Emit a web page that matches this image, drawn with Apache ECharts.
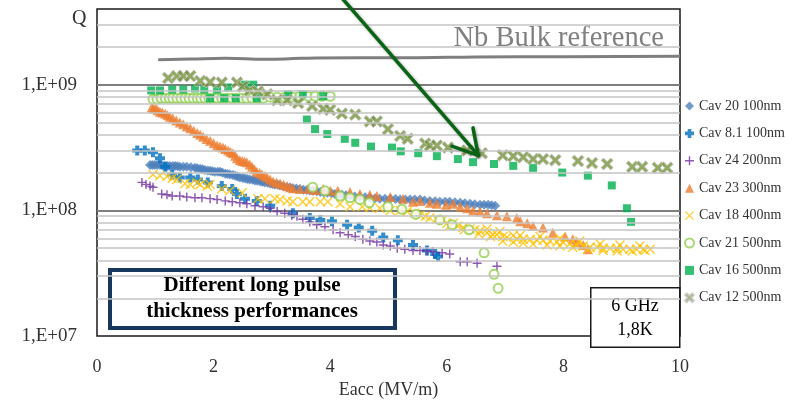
<!DOCTYPE html>
<html>
<head>
<meta charset="utf-8">
<script src="https://cdn.jsdelivr.net/npm/echarts@6/dist/echarts.min.js"></script>
<style>
html,body{margin:0;padding:0;background:#fff}
#box{width:794px;height:404px}
</style>
</head>
<body>
<div id="box"></div>
<script>
// legend names
var names = ['Cav 20 100nm','Cav 8.1 100nm','Cav 24 200nm','Cav 23 300nm','Cav 18 400nm','Cav 21 500nm','Cav 16 500nm','Cav 12 500nm'];

// [Eacc MV/m, Q]
var cav20 = [[0.91,2.3e8],[0.95,2.3e8],[0.99,2.3e8],[1.03,2.3e8],[1.08,2.3e8],[1.12,2.28e8],[1.17,2.26e8],[1.21,2.26e8],
  [1.25,2.26e8],[1.30,2.26e8],[1.34,2.26e8],[1.38,2.24e8],[1.42,2.22e8],[1.48,2.22e8],[1.54,2.22e8],[1.61,2.2e8],
  [1.68,2.18e8],[1.72,2.16e8],[1.77,2.14e8],[1.81,2.12e8],[1.85,2.1e8],[1.90,2.08e8],[1.94,2.07e8],[1.98,2.05e8],
  [2.02,2.03e8],[2.07,2.03e8],[2.11,2.03e8],[2.15,2.0e8],[2.20,1.96e8],[2.24,1.95e8],[2.28,1.93e8],[2.33,1.91e8],
  [2.37,1.89e8],[2.41,1.86e8],[2.45,1.83e8],[2.50,1.81e8],[2.54,1.79e8],[2.58,1.78e8],[2.62,1.76e8],[2.67,1.75e8],
  [2.71,1.73e8],[2.75,1.72e8],[2.80,1.7e8],[2.84,1.69e8],[2.88,1.67e8],[2.93,1.66e8],[2.97,1.64e8],[3.01,1.62e8],
  [3.05,1.61e8],[3.10,1.6e8],[3.14,1.58e8],[3.20,1.55e8],[3.26,1.53e8],[3.31,1.52e8],[3.36,1.5e8],[3.42,1.49e8],
  [3.48,1.48e8],[3.54,1.46e8],[3.60,1.45e8],[3.65,1.44e8],[3.70,1.43e8],[3.77,1.42e8],[3.83,1.4e8],[3.89,1.39e8],
  [3.95,1.38e8],[4.02,1.37e8],[4.08,1.35e8],[4.14,1.34e8],[4.20,1.33e8],[4.27,1.32e8],[4.34,1.3e8],[4.42,1.29e8],
  [4.51,1.28e8],[4.60,1.27e8],[4.68,1.26e8],[4.77,1.25e8],[4.85,1.24e8],[4.94,1.24e8],[5.03,1.24e8],[5.12,1.23e8],
  [5.20,1.22e8],[5.29,1.22e8],[5.37,1.22e8],[5.45,1.22e8],[5.54,1.22e8],[5.62,1.2e8],[5.71,1.19e8],[5.80,1.18e8],
  [5.88,1.17e8],[5.97,1.17e8],[6.05,1.17e8],[6.14,1.16e8],[6.23,1.15e8],[6.31,1.14e8],[6.40,1.13e8],[6.48,1.12e8],
  [6.57,1.11e8],[6.64,1.11e8],[6.71,1.11e8],[6.77,1.1e8],[6.83,1.09e8]];
var cav81 = [[0.69,3.0e8],[0.82,3.0e8],[0.96,2.9e8],[1.08,2.6e8],[1.17,2.22e8],[1.29,1.93e8],[1.42,1.83e8],[1.60,1.83e8],
  [1.73,1.76e8],[1.90,1.67e8],[2.14,1.56e8],[2.32,1.48e8],[2.40,1.35e8],[2.54,1.24e8],[2.74,1.19e8],[2.97,1.09e8],
  [3.36,9.5e7],[3.65,8.7e7],[3.83,8.4e7],[4.03,8.2e7],[4.29,7.7e7],[4.49,7.3e7],[4.72,6.9e7],[4.91,6.1e7],
  [5.16,5.8e7],[5.42,5.3e7],[5.66,4.8e7],[5.80,4.5e7],[5.85,4.3e7]];
var cav24 = [[0.77,1.67e8],[0.84,1.61e8],[0.91,1.56e8],[0.96,1.53e8],[1.11,1.35e8],[1.20,1.33e8],[1.29,1.3e8],[1.42,1.3e8],
  [1.54,1.28e8],[1.68,1.26e8],[1.80,1.26e8],[1.94,1.24e8],[2.06,1.22e8],[2.20,1.19e8],[2.32,1.17e8],[2.45,1.15e8],
  [2.57,1.13e8],[2.71,1.09e8],[2.85,1.07e8],[2.97,1.04e8],[3.09,9.8e7],[3.22,9.5e7],[3.34,9.15e7],[3.43,9.0e7],
  [3.53,8.5e7],[3.65,8.1e7],[3.77,7.7e7],[3.91,7.4e7],[4.05,7.0e7],[4.17,6.65e7],[4.31,6.4e7],[4.43,6.2e7],
  [4.56,5.9e7],[4.68,5.7e7],[4.80,5.6e7],[4.91,5.3e7],[5.03,5.2e7],[5.15,5.0e7],[5.28,4.9e7],[5.42,4.8e7],
  [5.54,4.8e7],[5.66,4.75e7],[5.76,4.7e7],[5.92,4.6e7],[6.05,4.5e7],[6.23,3.9e7],[6.35,3.9e7],[6.52,3.8e7],[6.86,3.6e7]];
var cav23 = [[0.94,6.6e8],[0.97,6.5e8],[1.01,6.43e8],[1.04,6.25e8],[1.08,6.09e8],[1.12,6.0e8],[1.17,5.88e8],[1.21,5.7e8],
  [1.25,5.57e8],[1.30,5.4e8],[1.36,5.19e8],[1.42,5.0e8],[1.48,4.84e8],[1.54,4.65e8],[1.60,4.5e8],[1.66,4.3e8],
  [1.72,4.12e8],[1.77,4.0e8],[1.82,3.85e8],[1.88,3.7e8],[1.94,3.58e8],[2.00,3.42e8],[2.06,3.28e8],[2.11,3.22e8],
  [2.16,3.16e8],[2.20,3.08e8],[2.25,3.0e8],[2.29,2.92e8],[2.33,2.85e8],[2.37,2.72e8],[2.40,2.6e8],[2.45,2.52e8],
  [2.49,2.47e8],[2.53,2.45e8],[2.57,2.42e8],[2.62,2.32e8],[2.66,2.22e8],[2.70,2.12e8],[2.74,2.03e8],[2.79,1.98e8],
  [2.83,1.93e8],[2.88,1.88e8],[2.92,1.83e8],[2.97,1.76e8],[3.02,1.7e8],[3.08,1.67e8],[3.14,1.64e8],[3.20,1.6e8],
  [3.26,1.56e8],[3.31,1.53e8],[3.36,1.5e8],[3.48,1.48e8],[3.62,1.48e8],[3.74,1.45e8],[3.88,1.48e8],[4.00,1.43e8],
  [4.13,1.43e8],[4.34,1.4e8],[4.51,1.35e8],[4.68,1.33e8],[4.80,1.3e8],[5.03,1.28e8],[5.25,1.24e8],[5.42,1.17e8],
  [5.54,1.19e8],[5.71,1.15e8],[5.83,1.13e8],[5.99,1.11e8],[6.11,1.13e8],[6.23,1.07e8],[6.35,1.04e8],[6.45,1.0e8],
  [6.57,9.8e7],[6.69,9.5e7],[6.86,9.15e7],[7.03,9.0e7],[7.20,8.7e7],[7.26,8.2e7],[7.38,7.9e7],[7.48,7.5e7],
  [7.65,7.3e7],[7.82,6.65e7],[8.03,6.2e7],[8.16,5.9e7],[8.23,5.6e7],[8.34,5.3e7],[8.42,4.9e7]];
var cav18 = [[0.96,1.93e8],[1.08,1.89e8],[1.20,1.86e8],[1.29,1.8e8],[1.37,1.76e8],[1.51,1.64e8],[1.60,1.61e8],[1.72,1.67e8],
  [1.77,1.61e8],[1.89,1.56e8],[1.94,1.61e8],[2.14,1.48e8],[2.28,1.43e8],[2.49,1.38e8],[2.76,1.24e8],[2.88,1.24e8],
  [3.05,1.24e8],[3.14,1.22e8],[3.26,1.19e8],[3.36,1.17e8],[3.53,1.17e8],[3.65,1.17e8],[3.83,1.17e8],[3.96,1.17e8],
  [4.17,1.13e8],[4.34,1.07e8],[4.55,1.07e8],[4.68,1.05e8],[4.85,1.04e8],[5.03,1.0e8],[5.20,1.0e8],[5.32,9.8e7],
  [5.45,9.5e7],[5.54,9.15e7],[5.63,9.0e7],[5.71,8.7e7],[5.83,8.5e7],[5.93,8.4e7],[6.00,7.9e7],[6.11,7.9e7],
  [6.19,7.5e7],[6.28,7.3e7],[6.40,7.1e7],[6.48,7.0e7],[6.57,6.9e7],[6.69,6.65e7],[6.79,6.4e7],[6.86,6.4e7],
  [6.96,6.2e7],[7.03,6.1e7],[7.14,6.3e7],[7.20,5.9e7],[7.31,5.9e7],[7.43,5.9e7],[7.55,5.8e7],[7.65,5.8e7],
  [7.77,5.7e7],[7.89,5.6e7],[7.99,5.6e7],[8.11,5.4e7],[8.23,5.3e7],[8.34,5.2e7],[8.46,5.1e7],[8.58,5.1e7],
  [8.68,5.0e7],[8.80,5.0e7],[8.92,5.0e7],[9.02,4.9e7],[9.14,4.9e7],[9.26,4.9e7],[9.37,4.9e7],[9.49,4.9e7],
  // lower and upper edges of the dense band
  [6.05,7.5e7],[6.30,7.0e7],[6.55,6.5e7],[6.75,6.2e7],[6.96,5.7e7],[7.14,5.6e7],[7.31,5.5e7],[7.48,5.4e7],
  [7.72,5.3e7],[7.94,5.2e7],[8.16,5.1e7],[8.42,4.9e7],[8.68,4.8e7],[8.92,4.75e7],[9.18,4.75e7],[9.40,4.8e7],
  [6.69,7.1e7],[6.91,6.8e7],[7.26,6.3e7],[7.60,6.2e7],[7.94,6.0e7],[8.28,5.7e7],[8.63,5.4e7],[8.97,5.3e7],[9.31,5.2e7]];
var cav21 = [[0.96,7.67e8],[1.03,7.67e8],[1.10,7.8e8],[1.17,7.8e8],[1.24,7.8e8],[1.30,7.8e8],[1.37,7.8e8],[1.44,7.8e8],
  [1.51,7.8e8],[1.58,7.8e8],[1.65,7.8e8],[1.72,7.8e8],[1.78,7.8e8],[1.85,7.8e8],[1.92,7.8e8],[1.99,7.8e8],
  [2.06,7.8e8],[2.14,7.8e8],[2.23,7.8e8],[2.32,7.8e8],[2.40,7.8e8],[2.49,7.8e8],[2.57,7.8e8],[2.66,7.8e8],
  [2.76,7.8e8],[2.85,7.8e8],[2.97,7.95e8],[3.09,7.95e8],[3.22,7.95e8],[3.36,7.95e8],[3.48,8.09e8],[3.62,8.09e8],
  [3.74,8.09e8],[3.86,8.09e8],[4.00,8.09e8],
  [3.70,1.53e8],[3.91,1.43e8],[4.17,1.3e8],[4.34,1.26e8],[4.51,1.22e8],[4.67,1.15e8],[4.99,1.07e8],[5.23,1.02e8],
  [5.47,9.3e7],[5.88,8.4e7],[6.09,7.7e7],[6.38,7.0e7],[6.64,4.6e7],[6.81,3.1e7],[6.88,2.4e7]];
var cav16 = [[0.93,9.0e8],[1.08,9.0e8],[1.29,9.15e8],[1.48,9.15e8],[1.68,9.32e8],[1.84,9.15e8],[1.94,7.8e8],[2.06,9.15e8],
  [2.18,7.8e8],[2.25,9.5e8],[2.38,7.8e8],[2.54,1.0e9],[2.68,1.0e9],[2.74,7.8e8],[3.28,8.38e8],[3.53,8.38e8],
  [3.88,8.09e8],[3.60,5.28e8],[3.74,4.43e8],[3.95,4.05e8],[4.25,3.71e8],[4.43,3.45e8],[4.70,3.22e8],[5.06,3.16e8],
  [5.21,2.95e8],[5.51,2.85e8],[5.83,2.7e8],[6.19,2.56e8],[6.45,2.42e8],[6.81,2.34e8],[7.14,2.26e8],[7.48,2.18e8],
  [7.98,2.0e8],[8.42,1.89e8],[8.83,1.58e8],[9.09,1.04e8],[9.16,8.1e7]];
var cav12 = [[1.22,1.13e9],[1.37,1.17e9],[1.48,1.17e9],[1.60,1.17e9],[1.77,1.07e9],[1.94,1.05e9],[2.14,1.04e9],[2.40,1.04e9],
  [2.50,9.66e8],[2.62,9.0e8],[2.76,8.84e8],[2.92,8.38e8],[3.09,7.53e8],[3.26,7.53e8],[3.45,7.14e8],[3.69,6.77e8],
  [3.88,6.43e8],[4.00,6.31e8],[4.20,5.88e8],[4.43,5.78e8],[4.68,5.1e8],[4.80,5.1e8],[4.99,4.43e8],[5.20,3.91e8],
  [5.33,3.71e8],[5.63,3.4e8],[5.71,3.28e8],[5.83,3.28e8],[6.02,3.16e8],[6.35,3.0e8],[6.60,2.85e8],[6.96,2.74e8],
  [7.14,2.7e8],[7.31,2.65e8],[7.48,2.56e8],[7.65,2.56e8],[7.86,2.51e8],[8.25,2.47e8],[8.49,2.38e8],[8.75,2.34e8],
  [9.18,2.22e8],[9.35,2.22e8],[9.62,2.18e8],[9.78,2.18e8]];

// Nb bulk reference curve
var nbBulk = [[1.05,1.58e9],[1.6,1.6e9],[2.2,1.62e9],[2.9,1.59e9],[3.5,1.62e9],[4.5,1.64e9],[5.5,1.64e9],[6.5,1.66e9],[8,1.67e9],[10,1.68e9]];

// axes
var xTicks = [0,2,4,6,8,10];
var yTicks = [1e7,1e8,1e9];
var yTickLabels = ['1,E+07','1,E+08','1,E+09'];
var minorGrid = [2e7,3e7,4e7,5e7,6e7,7e7,8e7,9e7,2e8,3e8,4e8,5e8,6e8,7e8,8e8,9e8,2e9,3e9];

// arrow annotation (tip on Cav 12 data)
var arrowTip = [6.54, 2.74e8];
var arrowTail = [4.2, 4.9e9];

var FONT = 'Liberation Serif';
var plusThick = 'path://M3,0H7V3H10V7H7V10H3V7H0V3H3Z';
var plusThin = 'path://M4.2,0H5.8V4.2H10V5.8H5.8V10H4.2V5.8H0V4.2H4.2Z';
var crossThin = 'path://M1,0L5,4L9,0L10,1L6,5L10,9L9,10L5,6L1,10L0,9L4,5L0,1Z';
var crossFat = 'path://M0,2L2,0L5,3L8,0L10,2L7,5L10,8L8,10L5,7L2,10L0,8L3,5Z';

function sc(name, data, symbol, size, color, extra){
  var s = {
    name: name, type: 'scatter', data: data, symbol: symbol, symbolSize: size,
    itemStyle: {color: color}, z: 3
  };
  if (extra) s.itemStyle = extra;
  return s;
}

var myChart = echarts.init(document.getElementById('box'));
var option = {
  animation: false,
  grid: {left: 97, right: 114, top: 9, bottom: 57, show: true, borderColor: '#1a1a1a', borderWidth: 1.5, backgroundColor: 'transparent'},
  legend: {
    orient: 'vertical', left: 679, top: 94, itemGap: 13.4, itemWidth: 9, itemHeight: 9,
    data: names,
    textStyle: {fontFamily: FONT, fontSize: 14, color: '#333'}
  },
  xAxis: {
    type: 'value', min: 0, max: 10, interval: 2,
    axisLine: {show: false}, axisTick: {show: false}, splitLine: {show: false},
    axisLabel: {margin: 22, fontFamily: FONT, fontSize: 18, color: '#333',
      formatter: function(v){ return xTicks.indexOf(v) >= 0 ? String(v) : ''; }},
    name: 'Eacc (MV/m)', nameLocation: 'middle', nameGap: 40,
    nameTextStyle: {fontFamily: FONT, fontSize: 18, color: '#333'}
  },
  yAxis: {
    type: 'log', logBase: 10, min: 1e7, max: 4e9,
    axisLine: {show: false}, axisTick: {show: false},
    splitLine: {show: true, showMinLine: false, showMaxLine: false, lineStyle: {color: '#7f7f7f', width: 2}},
    axisLabel: {margin: 20, fontFamily: FONT, fontSize: 19, color: '#333',
      showMaxLabel: false,
      formatter: function(v){
        for (var i = 0; i < yTicks.length; i++) {
          if (Math.abs(v - yTicks[i]) / yTicks[i] < 1e-6) return yTickLabels[i];
        }
        return '';
      }}
  },
  series: [
    {name: 'grid', type: 'scatter', data: [], z: 1, silent: true,
      markLine: {silent: true, symbol: 'none', animation: false, label: {show: false},
        lineStyle: {color: '#c4c4c4', width: 1.5, type: 'solid'},
        data: minorGrid.map(function(v){ return {yAxis: v}; })}},
    {name: 'Nb Bulk', type: 'line', data: nbBulk, smooth: true, symbol: 'none', z: 2,
      lineStyle: {color: '#7f7f7f', width: 3}},
    sc(names[0], cav20, 'diamond', 10, '#4f81bd'),
    sc(names[1], cav81, plusThick, 10, '#0070c0'),
    sc(names[2], cav24, plusThin, 9, '#7030a0'),
    sc(names[3], cav23, 'triangle', 10, '#ed7d31'),
    sc(names[4], cav18, crossThin, 10, '#ffc000'),
    sc(names[5], cav21, 'emptyCircle', 9, '#92d050', {color: '#92d050', borderColor: '#92d050', borderWidth: 2.5}),
    sc(names[6], cav16, 'rect', 8, '#00b050'),
    sc(names[7], cav12, crossFat, 12, '#77933c', {color: '#77933c', borderColor: '#c8c8c8', borderWidth: 1})
  ]
};
if (option && typeof option === 'object') {
  myChart.setOption(option, true);
}

// annotations
var tip = myChart.convertToPixel({gridIndex: 0}, arrowTip);
var tail = myChart.convertToPixel({gridIndex: 0}, arrowTail);
var dx = tail[0] - tip[0], dy = tail[1] - tip[1];
var len = Math.sqrt(dx * dx + dy * dy);
var ux = dx / len, uy = dy / len;
var a = Math.PI / 6, hl = 28;
var w1 = [tip[0] + hl * (ux * Math.cos(a) - uy * Math.sin(a)), tip[1] + hl * (ux * Math.sin(a) + uy * Math.cos(a))];
var w2 = [tip[0] + hl * (ux * Math.cos(-a) - uy * Math.sin(-a)), tip[1] + hl * (ux * Math.sin(-a) + uy * Math.cos(-a))];
var arrowStyle = {stroke: '#0b6414', lineWidth: 3.5, lineCap: 'round', lineJoin: 'round', fill: null,
  shadowBlur: 3, shadowColor: 'rgba(0,0,0,0.35)', shadowOffsetX: 1, shadowOffsetY: 1};

myChart.setOption({
  graphic: [
    {type: 'text', left: 72, top: 9, style: {text: 'Q', fontFamily: FONT, fontSize: 20, fill: '#333'}},
    {type: 'text', right: 130, top: 24, style: {text: 'Nb Bulk reference', fontFamily: FONT, fontSize: 28.5, fill: '#808080'}},
    {type: 'line', shape: {x1: tail[0], y1: tail[1], x2: tip[0], y2: tip[1]}, style: arrowStyle, z: 10},
    {type: 'polyline', shape: {points: [w1, tip, w2]}, style: arrowStyle, z: 10},
    {type: 'group', left: 108, top: 268, z: 20, children: [
      {type: 'rect', shape: {x: 2, y: 2, width: 285, height: 58}, style: {fill: '#fff', stroke: '#17375e', lineWidth: 4}},
      {type: 'text', x: 144, y: 18, style: {text: 'Different long pulse', fontFamily: FONT, fontWeight: 'bold', fontSize: 21, fill: '#000', textAlign: 'center', textVerticalAlign: 'middle'}},
      {type: 'text', x: 144, y: 44, style: {text: 'thickness performances', fontFamily: FONT, fontWeight: 'bold', fontSize: 21, fill: '#000', textAlign: 'center', textVerticalAlign: 'middle'}}
    ]},
    {type: 'group', left: 590, top: 287, z: 20, children: [
      {type: 'rect', shape: {x: 0.75, y: 0.75, width: 89, height: 59.5}, style: {fill: '#fff', stroke: '#1a1a1a', lineWidth: 1.5}},
      {type: 'text', x: 45, y: 19, style: {text: '6 GHz', fontFamily: FONT, fontSize: 18, fill: '#000', textAlign: 'center', textVerticalAlign: 'middle'}},
      {type: 'text', x: 45, y: 43, style: {text: '1,8K', fontFamily: FONT, fontSize: 18, fill: '#000', textAlign: 'center', textVerticalAlign: 'middle'}}
    ]}
  ]
});
</script>
</body>
</html>
